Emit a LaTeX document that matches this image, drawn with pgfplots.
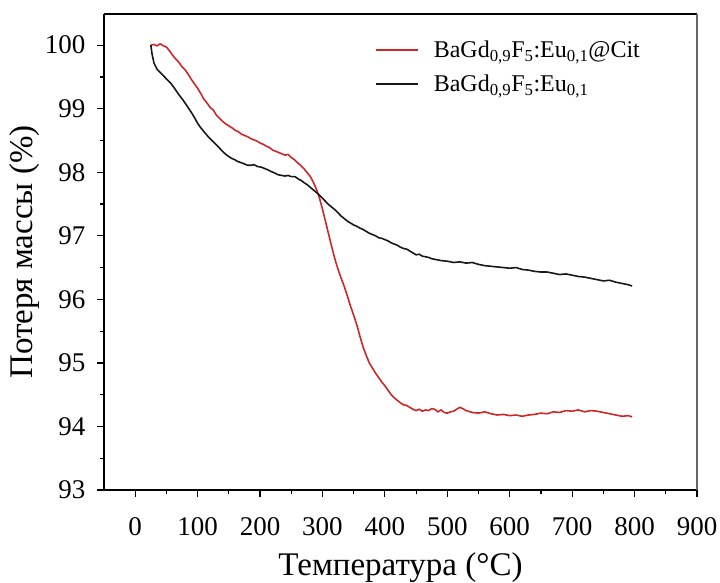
\documentclass[border=0pt]{standalone}
\usepackage{fontspec}
\setmainfont{Liberation Serif}
\usepackage{pgfplots}
\pgfplotsset{compat=1.18}
\definecolor{redc}{RGB}{204,40,40}
\definecolor{blk}{RGB}{25,25,25}
\begin{document}
\begin{tikzpicture}
\begin{axis}[
  name=ax,
  scale only axis,
  width=593pt, height=476pt,
  xmin=-50, xmax=900, ymin=93, ymax=100.49,
  xtick={0,100,...,900}, ytick={93,94,...,100},
  minor xtick={50,150,...,850}, minor ytick={93.5,94.5,...,99.5,100.5},
  axis x line*=bottom, axis y line*=left,
  tick align=outside,
  major tick length=7pt, minor tick length=4pt,
  tick style={line width=1.2pt, black},
  axis line style={line width=1.6pt},
  /pgf/number format/assume math mode=true,
  ticklabel style={font=\fontsize{27}{32}\selectfont},
  xticklabel style={yshift=-17pt},
  yticklabel style={xshift=-8pt},
  xlabel={Температура (°C)},
  ylabel={Потеря массы (\%)},
  label style={font=\fontsize{33}{38}\selectfont},
  xlabel style={yshift=-10pt},
  ylabel style={yshift=-1pt},
  legend style={draw=none, fill=none, at={(0.452,0.952)}, anchor=north west,
    font=\fontsize{24}{30}\selectfont, row sep=12pt,
    /tikz/every odd column/.append style={column sep=13pt}},
  legend cell align=left,
  legend image code/.code={\draw[#1] (0pt,0pt) -- (42pt,0pt);},
  clip=false,
]
\addplot[color=redc, line width=1.6pt] coordinates {
(25,100.00)(30,100.01)(35,99.99)(40,100.02)(45,99.99)(50,99.97)(55,99.91)(60,99.84)(65,99.78)(70,99.73)
(75,99.66)(80,99.61)(85,99.54)(90,99.46)(95,99.39)(100,99.32)(105,99.24)(110,99.15)(115,99.09)(120,99.02)
(125,98.98)(130,98.90)(135,98.85)(140,98.80)(145,98.76)(150,98.73)(155,98.70)(160,98.66)(165,98.64)(170,98.60)
(175,98.58)(180,98.56)(185,98.53)(190,98.51)(195,98.49)(200,98.46)(205,98.44)(210,98.41)(215,98.39)(220,98.35)
(225,98.33)(230,98.31)(235,98.29)(240,98.27)(245,98.28)(250,98.23)(255,98.20)(260,98.15)(265,98.11)(270,98.06)
(275,98.00)(280,97.94)(285,97.85)(290,97.74)(295,97.60)(300,97.42)(305,97.22)(310,97.02)(315,96.82)(320,96.63)
(325,96.47)(330,96.33)(335,96.20)(340,96.05)(345,95.89)(350,95.75)(355,95.60)(360,95.42)(365,95.25)(370,95.12)
(375,95.00)(380,94.92)(385,94.84)(390,94.77)(395,94.70)(400,94.64)(405,94.57)(410,94.50)(415,94.45)(420,94.41)
(425,94.37)(430,94.34)(435,94.33)(440,94.30)(445,94.27)(450,94.25)(455,94.27)(460,94.24)(465,94.26)(470,94.25)
(475,94.28)(480,94.27)(485,94.23)(490,94.26)(495,94.22)(500,94.21)(505,94.23)(510,94.24)(515,94.27)(520,94.30)
(525,94.28)(530,94.25)(540,94.22)(550,94.21)(560,94.23)(570,94.20)(580,94.18)(590,94.19)(600,94.17)(610,94.18)
(620,94.16)(630,94.18)(640,94.19)(650,94.21)(660,94.20)(670,94.23)(680,94.22)(690,94.25)(700,94.24)(710,94.26)
(720,94.23)(730,94.25)(740,94.24)(750,94.22)(760,94.20)(770,94.18)(780,94.16)(790,94.17)(796,94.15)
};
\addlegendentry{BaGd\textsubscript{0,9}F\textsubscript{5}:Eu\textsubscript{0,1}@Cit}
\addplot[color=blk, line width=1.6pt] coordinates {
(25,100.00)(27,99.86)(30,99.72)(35,99.62)(40,99.57)(45,99.52)(50,99.47)(57,99.40)(63,99.32)(70,99.22)
(77,99.13)(84,99.03)(90,98.94)(95,98.86)(100,98.77)(105,98.70)(110,98.64)(116,98.57)(122,98.51)(128,98.45)
(133,98.40)(138,98.35)(143,98.30)(148,98.26)(154,98.22)(159,98.20)(164,98.17)(170,98.15)(175,98.13)(180,98.11)
(186,98.11)(190,98.12)(196,98.09)(202,98.08)(207,98.06)(212,98.04)(218,98.01)(223,97.99)(229,97.96)(235,97.95)
(240,97.94)(245,97.95)(250,97.93)(256,97.93)(262,97.89)(266,97.87)(270,97.84)(276,97.80)(282,97.75)(288,97.70)
(293,97.66)(300,97.59)(305,97.54)(310,97.49)(315,97.45)
(320,97.41)(325,97.36)(330,97.31)(335,97.27)(340,97.23)(345,97.20)(350,97.17)(355,97.15)(360,97.12)(365,97.10)
(370,97.07)(375,97.04)(380,97.02)(385,97.00)(390,96.97)(395,96.96)(400,96.94)(405,96.92)(410,96.89)(415,96.87)
(420,96.85)(425,96.82)(430,96.80)(435,96.79)(440,96.76)(445,96.73)(450,96.70)(455,96.71)(460,96.68)(465,96.67)
(470,96.66)(475,96.64)(480,96.63)(490,96.61)(500,96.60)(510,96.58)(520,96.59)(530,96.57)(540,96.58)(550,96.55)
(560,96.53)(570,96.52)(580,96.51)(590,96.50)(600,96.49)(610,96.50)(620,96.47)(630,96.46)(640,96.44)(650,96.43)
(660,96.43)(670,96.41)(680,96.39)(690,96.40)(700,96.38)(710,96.36)(720,96.35)(730,96.33)(740,96.31)(750,96.29)
(760,96.30)(770,96.27)(780,96.25)(790,96.23)(796,96.21)
};
\addlegendentry{BaGd\textsubscript{0,9}F\textsubscript{5}:Eu\textsubscript{0,1}}
\end{axis}
\draw[line width=1.6pt, black] (ax.north west) -- (ax.north east);
\draw[line width=1.4pt, black!60] (ax.north east) -- (ax.south east);
\pgfresetboundingbox
\path[use as bounding box] ([shift={(-104pt,-92pt)}]ax.south west) rectangle ([shift={(23pt,14pt)}]ax.north east);
\end{tikzpicture}
\end{document}
